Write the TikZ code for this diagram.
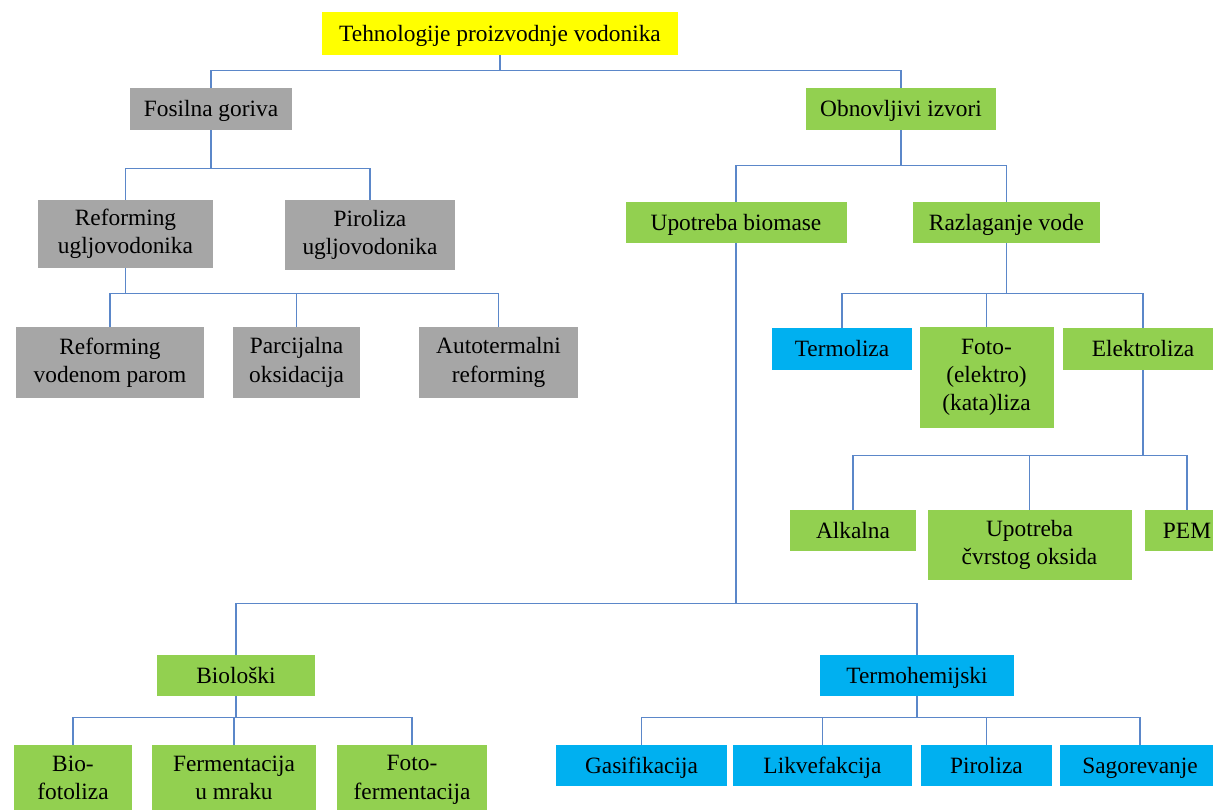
\documentclass[tikz,border=0pt]{standalone}
\usepackage{fontspec}
\setmainfont{Liberation Serif}
\definecolor{rootyellow}{HTML}{FFFF00}
\definecolor{fosilgray}{HTML}{A6A6A6}
\definecolor{obnovgreen}{HTML}{92D050}
\definecolor{termoblue}{HTML}{00B0F0}
\definecolor{linkblue}{HTML}{5B87C9}
\begin{document}
\begin{tikzpicture}[x=0.02cm,y=-0.02cm,
  box/.style={inner sep=0pt,align=center,font=\fontsize{13.3}{16}\selectfont,
    execute at end node={\rule[-3pt]{0pt}{3pt}}},
  oneline/.style={execute at begin node={\rule{0pt}{12pt}}},
  wh/.style 2 args={minimum width=#1*0.02cm,minimum height=#2*0.02cm},
  graybox/.style={box,fill=fosilgray},
  greenbox/.style={box,fill=obnovgreen},
  bluebox/.style={box,fill=termoblue},
  link/.style={draw=linkblue,line width=0.9pt}]
\useasboundingbox (0,0) rectangle (1213,810);
\clip (0,0) rectangle (1213,810);

% root and first level
\node[box,oneline,fill=rootyellow,wh={356}{43}] (root) at (500,33.5) {Tehnologije proizvodnje vodonika};
\node[graybox,oneline,wh={162}{42}] (fos) at (211,109) {Fosilna goriva};
\node[greenbox,oneline,wh={190}{42}] (obn) at (901,109) {Obnovljivi izvori};

% fosilna goriva
\node[graybox,wh={175}{68}] (refu) at (125.5,234) {Reforming\\ugljovodonika};
\node[graybox,wh={170}{70}] (piru) at (370,235) {Piroliza\\ugljovodonika};
\node[graybox,wh={188}{71}] (rvp) at (110,362.5) {Reforming\\vodenom parom};
\node[graybox,wh={127}{71}] (parc) at (296.5,362.5) {Parcijalna\\oksidacija};
\node[graybox,wh={159}{71}] (auto) at (498.5,362.5) {Autotermalni\\reforming};

% obnovljivi izvori
\node[greenbox,oneline,wh={221}{41}] (bio) at (736,222.5) {Upotreba biomase};
\node[greenbox,oneline,wh={187}{41}] (raz) at (1006.5,222.5) {Razlaganje vode};
\node[bluebox,oneline,wh={140}{42}] (terml) at (842,349) {Termoliza};
\node[greenbox,wh={134}{101}] (foto) at (986.5,377.5) {Foto-\\(elektro)\\(kata)liza};
\node[greenbox,oneline,wh={160}{42}] (elek) at (1143,349) {Elektroliza};
\node[greenbox,oneline,wh={126}{41}] (alk) at (853,530.5) {Alkalna};
\node[greenbox,wh={204}{70}] (cvrst) at (1029.5,545) {Upotreba\\čvrstog oksida};
\node[greenbox,oneline,wh={84}{41}] (pem) at (1187,530.5) {PEM};

% biomasa
\node[greenbox,oneline,wh={158}{41}] (biol) at (236,675.5) {Biološki};
\node[bluebox,oneline,wh={194}{41}] (termh) at (917,675.5) {Termohemijski};
\node[greenbox,wh={118}{70}] (biofot) at (73,780) {Bio-\\fotoliza};
\node[greenbox,wh={164}{70}] (ferm) at (234,780) {Fermentacija\\u mraku};
\node[greenbox,wh={150}{70}] (fferm) at (412,780) {Foto-\\fermentacija};
\node[bluebox,oneline,wh={171}{41}] (gas) at (641.5,765.5) {Gasifikacija};
\node[bluebox,oneline,wh={179}{41}] (likv) at (822.5,765.5) {Likvefakcija};
\node[bluebox,oneline,wh={131}{41}] (pir) at (986.5,765.5) {Piroliza};
\node[bluebox,oneline,wh={160}{41}] (sag) at (1140,765.5) {Sagorevanje};

% connectors
\foreach \c in {fos,obn} \draw[link] (root.south) -- ++(0,15) -| (\c.north);
\foreach \c in {refu,piru} \draw[link] (fos.south) -- ++(0,38) -| (\c.north);
\foreach \c in {rvp,parc,auto} \draw[link] (refu.south) -- ++(0,25) -| (\c.north);
\foreach \c in {bio,raz} \draw[link] (obn.south) -- ++(0,35) -| (\c.north);
\foreach \c in {terml,foto,elek} \draw[link] (raz.south) -- ++(0,50) -| (\c.north);
\foreach \c in {alk,cvrst,pem} \draw[link] (elek.south) -- ++(0,85) -| (\c.north);
\foreach \c in {biol,termh} \draw[link] (bio.south) -- ++(0,360) -| (\c.north);
\foreach \c in {biofot,ferm,fferm} \draw[link] (biol.south) -- ++(0,21) -| (\c.north);
\foreach \c in {gas,likv,pir,sag} \draw[link] (termh.south) -- ++(0,21) -| (\c.north);
\end{tikzpicture}
\end{document}
